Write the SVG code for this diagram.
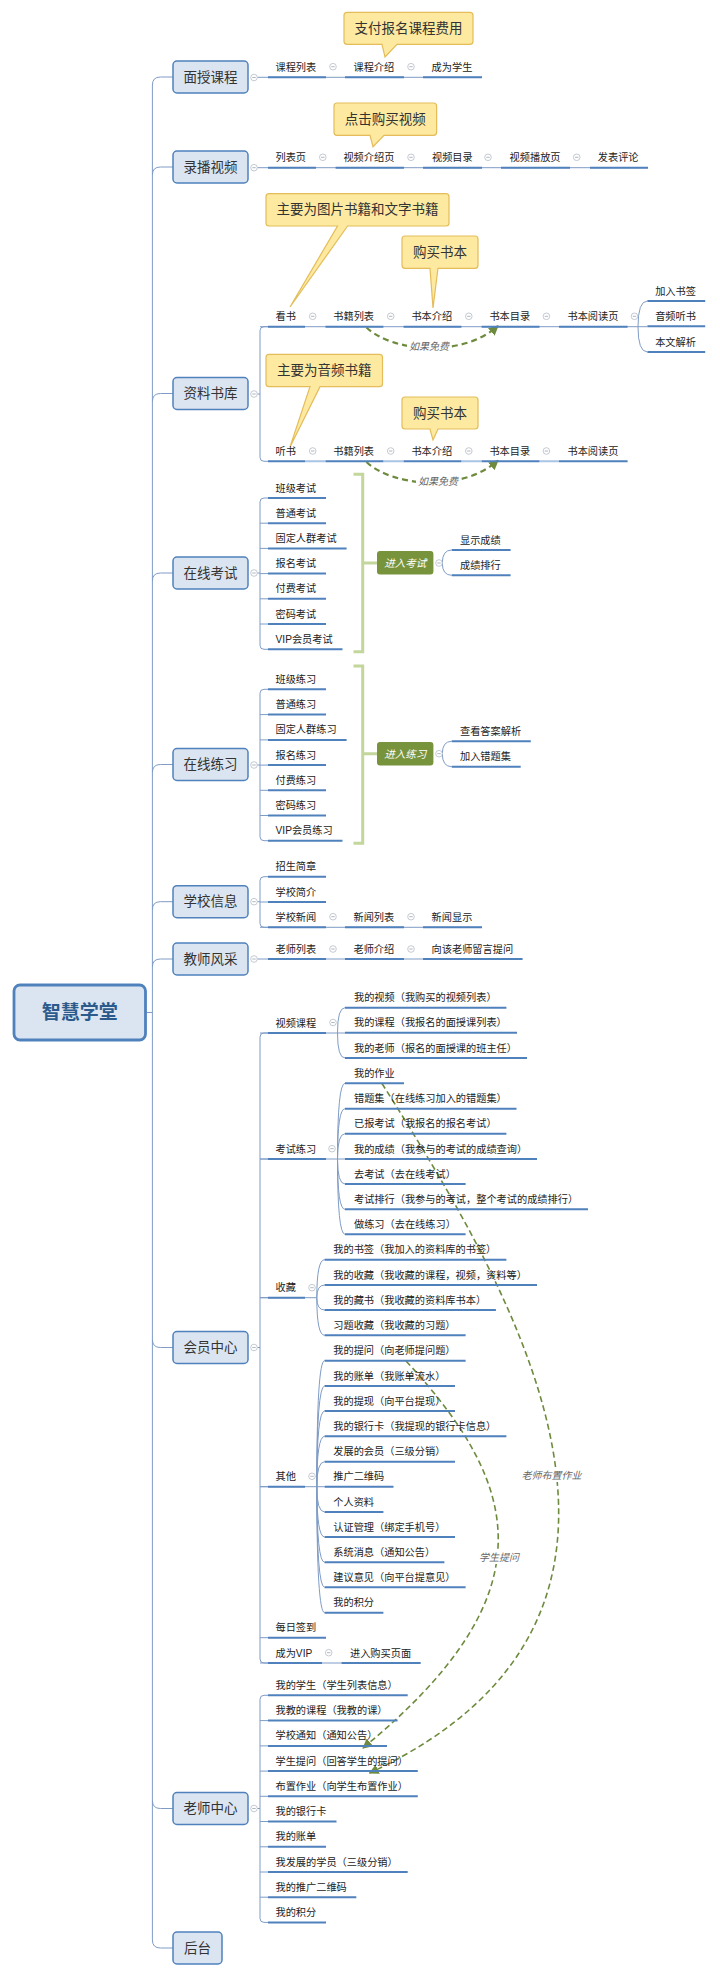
<svg xmlns="http://www.w3.org/2000/svg" xmlns:xlink="http://www.w3.org/1999/xlink" width="720" height="1978" viewBox="0 0 720 1978">
<defs>
<style>
text{font-family:"Liberation Sans","Noto Sans CJK SC",sans-serif}
.mb{fill:#dbe5f1;stroke:#4f81bd;stroke-width:1.5}
.mt{font-size:13.5px;fill:#333;text-anchor:middle;dominant-baseline:central}
.st{font-size:10.2px;fill:#222}
.ul{stroke:#4f81bd;stroke-width:2;fill:none}
.cn{stroke:#7f9cc6;stroke-width:1;fill:none}
.co{fill:#fde9a0;stroke:#e4bd5a;stroke-width:1.2}
.ct{font-size:13.5px;fill:#333;text-anchor:middle;dominant-baseline:central}
.gb{fill:#77933c}
.gt{font-size:10.5px;fill:#fff;font-style:italic;text-anchor:middle;dominant-baseline:central}
.br{stroke:#c3d69b;stroke-width:3;fill:none}
.da{stroke:#6e8b3d;fill:none}
.ds{stroke-width:2.2;stroke-dasharray:6 4}
.dl{stroke-width:1.6;stroke-dasharray:6 3.5}
.lb{font-size:10px;fill:#666;font-style:italic;text-anchor:middle;dominant-baseline:central}
</style>
<g id="cc"><circle r="3.3" fill="#fff" stroke="#b5bcc6" stroke-width="0.8"/><line x1="-1.7" x2="1.7" stroke="#9aa3ad" stroke-width="0.8"/></g>
<marker id="ah" viewBox="0 0 10 10" refX="9" refY="5" markerWidth="10" markerHeight="10" markerUnits="userSpaceOnUse" orient="auto"><path d="M0,0 L10,5 L0,10 z" fill="#6e8b3d"/></marker>
</defs>
<rect width="720" height="1978" fill="#fff"/>

<g id="connectors">
<path class="cn" d="M152.4 85 V1940"/>
<path class="cn" d="M152.4 85 Q152.4 77 160.4 77 H173"/>
<path class="cn" d="M152.4 175 Q152.4 167 160.4 167 H173"/>
<path class="cn" d="M152.4 401.5 Q152.4 393.5 160.4 393.5 H173"/>
<path class="cn" d="M152.4 581 Q152.4 573 160.4 573 H173"/>
<path class="cn" d="M152.4 772.5 Q152.4 764.5 160.4 764.5 H173"/>
<path class="cn" d="M152.4 909.7 Q152.4 901.7 160.4 901.7 H173"/>
<path class="cn" d="M152.4 967 Q152.4 959 160.4 959 H173"/>
<path class="cn" d="M145.5 1012.5 H152.4"/>
<path class="cn" d="M152.4 1339.5 Q152.4 1347.5 160.4 1347.5 H173"/>
<path class="cn" d="M152.4 1800.5 Q152.4 1808.5 160.4 1808.5 H173"/>
<path class="cn" d="M152.4 1940 Q152.4 1948 160.4 1948 H173"/>
<!-- 面授课程 -->
<path class="cn" d="M257.3 77.3 H482"/>
<!-- 录播视频 -->
<path class="cn" d="M257.3 167.7 H648"/>
<!-- 资料书库 -->
<path class="cn" d="M257.3 394 H260"/>
<path class="cn" d="M268 326.7 H264 Q260 326.7 260 330.7 V457.3 Q260 461.3 264 461.3 H268"/>
<path class="cn" d="M260 326.7 H638"/>
<path class="cn" d="M638 326.7 Q638 301 647.4 301 M638 326.7 H647.4 M638 326.7 Q638 352 647.4 352"/>
<path d="M305 461.3 H325.5 M383.4 461.3 H403.6 M461.4 461.3 H481.6 M539.5 461.3 H559" stroke="#a9c4e4" stroke-width="2" fill="none"/>
<!-- 在线考试 -->
<path class="cn" d="M257.3 573 H260"/>
<path class="cn" d="M268 498 H264 Q260 498 260 502 V645.3 Q260 649.3 264 649.3 H268 M260 523.2 H268 M260 548.4 H268 M260 573.6 H268 M260 598.8 H268 M260 624 H268"/>
<path class="br" d="M353.5 474.3 H362.7 V651.7 H353.5 M362.7 563 H377"/>
<path class="cn" d="M442.3 563 Q442.3 550 451.8 550 M442.3 563 Q442.3 575.3 451.8 575.3"/>
<!-- 在线练习 -->
<path class="cn" d="M257.3 765 H260"/>
<path class="cn" d="M268 689.3 H264 Q260 689.3 260 693.3 V836.7 Q260 840.7 264 840.7 H268 M260 714.6 H268 M260 739.9 H268 M260 765.1 H268 M260 790.3 H268 M260 815.5 H268"/>
<path class="br" d="M353.5 666 H362.7 V843.3 H353.5 M362.7 753.7 H377"/>
<path class="cn" d="M442.3 753.7 Q442.3 741.3 451.8 741.3 M442.3 753.7 Q442.3 766.7 451.8 766.7"/>
<!-- 学校信息 -->
<path class="cn" d="M257.3 901.7 H260"/>
<path class="cn" d="M268 876.7 H264 Q260 876.7 260 880.7 V923.3 Q260 927.3 264 927.3 H268 M260 902 H268"/>
<path class="cn" d="M260 927.3 H482"/>
<!-- 教师风采 -->
<path class="cn" d="M257.3 959 H522.5"/>
<!-- 会员中心 -->
<path class="cn" d="M257.3 1347.5 H260"/>
<path class="cn" d="M268 1033 H264 Q260 1033 260 1037 V1659 Q260 1663 264 1663 H268 M260 1159 H268 M260 1297.7 H268 M260 1486.7 H268 M260 1637.7 H268"/>
<path class="cn" d="M260 1033 H337.5 M260 1159 H337.5 M260 1297.7 H316.8 M260 1486.7 H316.8 M260 1663 H420.6"/>
<path class="cn" d="M337.5 1033 Q337.5 1007.7 345 1007.7 M337.5 1033 H345 M337.5 1033 Q337.5 1058 345 1058"/>
<path class="cn" d="M337.5 1159 Q337.5 1083.3 345 1083.3 M337.5 1159 Q337.5 1108.7 345 1108.7 M337.5 1159 Q337.5 1133.7 345 1133.7 M337.5 1159 H345 M337.5 1159 Q337.5 1184 345 1184 M337.5 1159 Q337.5 1209.3 345 1209.3 M337.5 1159 Q337.5 1234.3 345 1234.3"/>
<path class="cn" d="M316.8 1297.7 Q316.8 1259.7 324.6 1259.7 M316.8 1297.7 Q316.8 1285 324.6 1285 M316.8 1297.7 Q316.8 1310 324.6 1310 M316.8 1297.7 Q316.8 1335.3 324.6 1335.3"/>
<path class="cn" d="M316.8 1486.7 Q316.8 1360.7 324.6 1360.7 M316.8 1486.7 Q316.8 1386 324.6 1386 M316.8 1486.7 Q316.8 1411 324.6 1411 M316.8 1486.7 Q316.8 1436.3 324.6 1436.3 M316.8 1486.7 Q316.8 1461.7 324.6 1461.7 M316.8 1486.7 H324.6 M316.8 1486.7 Q316.8 1512 324.6 1512 M316.8 1486.7 Q316.8 1537 324.6 1537 M316.8 1486.7 Q316.8 1562.3 324.6 1562.3 M316.8 1486.7 Q316.8 1587.3 324.6 1587.3 M316.8 1486.7 Q316.8 1612.7 324.6 1612.7"/>
<!-- 老师中心 -->
<path class="cn" d="M257.3 1808.5 H260"/>
<path class="cn" d="M268 1695.3 H264 Q260 1695.3 260 1699.3 V1918.4 Q260 1922.4 264 1922.4 H268 M260 1720.6 H268 M260 1745.9 H268 M260 1771.1 H268 M260 1796.3 H268 M260 1821.5 H268 M260 1846.8 H268 M260 1872 H268 M260 1897.2 H268"/>
<!-- dashed relationships -->
<path class="da ds" d="M366.5 327.5 C392 352, 462 358, 498 326" marker-end="url(#ah)"/>
<rect x="407" y="340.5" width="44" height="12" fill="#fff"/>
<text class="lb" x="429" y="346.7">如果免费</text>
<path class="da ds" d="M366.5 462 C392 486.5, 462 492.5, 498 460.5" marker-end="url(#ah)"/>
<rect x="416" y="475" width="44" height="12" fill="#fff"/>
<text class="lb" x="438" y="481">如果免费</text>
<path class="da dl" d="M382 1083.5 C518 1299, 706 1616, 369.6 1773" marker-end="url(#ah)"/>
<rect x="520" y="1468" width="63" height="14" fill="#fff"/>
<text class="lb" x="551.5" y="1475">老师布置作业</text>
<path class="da dl" d="M406 1361 C524 1488, 548 1596, 363 1748" marker-end="url(#ah)"/>
<rect x="477" y="1550" width="44" height="14" fill="#fff"/>
<text class="lb" x="499" y="1557">学生提问</text>
</g>

<g id="root"><rect x="14" y="985" width="131.5" height="55" rx="6" fill="#dbe5f1" stroke="#4f81bd" stroke-width="2.8"/><text x="79.7" y="1012.5" font-size="19" font-weight="bold" fill="#2b5a8c" text-anchor="middle" dominant-baseline="central">智慧学堂</text></g>

<g id="m1"><rect class="mb" x="173" y="61" width="75" height="32" rx="4"/><text class="mt" x="210.5" y="77">面授课程</text><use href="#cc" x="254" y="77.5"/></g>
<g id="m2"><rect class="mb" x="173" y="151" width="75" height="32" rx="4"/><text class="mt" x="210.5" y="167">录播视频</text><use href="#cc" x="254" y="167.7"/></g>
<g id="m3"><rect class="mb" x="173" y="377.5" width="75" height="32" rx="4"/><text class="mt" x="210.5" y="393.5">资料书库</text><use href="#cc" x="254" y="394"/></g>
<g id="m4"><rect class="mb" x="173" y="557" width="75" height="32" rx="4"/><text class="mt" x="210.5" y="573">在线考试</text><use href="#cc" x="254" y="573"/></g>
<g id="m5"><rect class="mb" x="173" y="748.5" width="75" height="32" rx="4"/><text class="mt" x="210.5" y="764.5">在线练习</text><use href="#cc" x="254" y="765"/></g>
<g id="m6"><rect class="mb" x="173" y="885.7" width="75" height="32" rx="4"/><text class="mt" x="210.5" y="901.7">学校信息</text><use href="#cc" x="254" y="901.7"/></g>
<g id="m7"><rect class="mb" x="173" y="943" width="75" height="32" rx="4"/><text class="mt" x="210.5" y="959">教师风采</text><use href="#cc" x="254" y="959"/></g>
<g id="m8"><rect class="mb" x="173" y="1331.5" width="75" height="32" rx="4"/><text class="mt" x="210.5" y="1347.5">会员中心</text><use href="#cc" x="254" y="1347.5"/></g>
<g id="m9"><rect class="mb" x="173" y="1792.5" width="75" height="32" rx="4"/><text class="mt" x="210.5" y="1808.5">老师中心</text><use href="#cc" x="254" y="1808.5"/></g>
<g id="m10"><rect class="mb" x="173" y="1932" width="49" height="32" rx="4"/><text class="mt" x="197.5" y="1948">后台</text></g>

<!-- callouts -->
<g id="c1"><path class="co" d="M347 12.3 H470 Q473 12.3 473 15.3 V41.3 Q473 44.3 470 44.3 H397 L385 57 L382 44.3 H347 Q344 44.3 344 41.3 V15.3 Q344 12.3 347 12.3 Z"/><text class="ct" x="408.5" y="28.3">支付报名课程费用</text></g>
<g id="c2"><path class="co" d="M337 103 H433.6 Q436.6 103 436.6 106 V132.3 Q436.6 135.3 433.6 135.3 H384 L373 146.7 L370 135.3 H337 Q334 135.3 334 132.3 V106 Q334 103 337 103 Z"/><text class="ct" x="385.3" y="119.2">点击购买视频</text></g>
<g id="c3"><path class="co" d="M269 193.7 H446 Q449 193.7 449 196.7 V223 Q449 226 446 226 H347.6 L290 307 L337.5 226 H269 Q266 226 266 223 V196.7 Q266 193.7 269 193.7 Z"/><text class="ct" x="357.5" y="209.9">主要为图片书籍和文字书籍</text></g>
<g id="c4"><path class="co" d="M405 236 H475 Q478 236 478 239 V265.3 Q478 268.3 475 268.3 H438 L433 308 L430 268.3 H405 Q402 268.3 402 265.3 V239 Q402 236 405 236 Z"/><text class="ct" x="440" y="252.2">购买书本</text></g>
<g id="c5"><path class="co" d="M269 354.3 H379.5 Q382.5 354.3 382.5 357.3 V383.7 Q382.5 386.7 379.5 386.7 H320 L290 447 L310 386.7 H269 Q266 386.7 266 383.7 V357.3 Q266 354.3 269 354.3 Z"/><text class="ct" x="324.3" y="370.5">主要为音频书籍</text></g>
<g id="c6"><path class="co" d="M405 397 H475 Q478 397 478 400 V426 Q478 429 475 429 H438 L433 440 L430 429 H405 Q402 429 402 426 V400 Q402 397 405 397 Z"/><text class="ct" x="440" y="413">购买书本</text></g>

<!-- 面授课程 row -->
<g id="s1"><text class="st" x="275.5" y="70.8">课程列表</text><line class="ul" x1="268" y1="77.3" x2="326" y2="77.3"/><use href="#cc" x="333" y="66.7"/></g>
<g id="s2"><text class="st" x="353.5" y="70.8">课程介绍</text><line class="ul" x1="345" y1="77.3" x2="404" y2="77.3"/><use href="#cc" x="411" y="66.7"/></g>
<g id="s3"><text class="st" x="431.6" y="70.8">成为学生</text><line class="ul" x1="423" y1="77.3" x2="482" y2="77.3"/></g>

<!-- 录播视频 row -->
<g id="s4"><text class="st" x="275.5" y="161.2">列表页</text><line class="ul" x1="268" y1="167.7" x2="316" y2="167.7"/><use href="#cc" x="322.8" y="157.3"/></g>
<g id="s5"><text class="st" x="343.4" y="161.2">视频介绍页</text><line class="ul" x1="335.6" y1="167.7" x2="404" y2="167.7"/><use href="#cc" x="411" y="157.3"/></g>
<g id="s6"><text class="st" x="432" y="161.2">视频目录</text><line class="ul" x1="423" y1="167.7" x2="482" y2="167.7"/><use href="#cc" x="488" y="157.3"/></g>
<g id="s7"><text class="st" x="509.6" y="161.2">视频播放页</text><line class="ul" x1="501" y1="167.7" x2="570" y2="167.7"/><use href="#cc" x="576.7" y="157.3"/></g>
<g id="s8"><text class="st" x="597.8" y="161.2">发表评论</text><line class="ul" x1="590" y1="167.7" x2="648" y2="167.7"/></g>

<!-- 看书 row -->
<g id="s9"><text class="st" x="275.5" y="320.2">看书</text><line class="ul" x1="268" y1="326.7" x2="305" y2="326.7"/><use href="#cc" x="312.7" y="316.3"/></g>
<g id="s10"><text class="st" x="333.3" y="320.2">书籍列表</text><line class="ul" x1="325.5" y1="326.7" x2="383.4" y2="326.7"/><use href="#cc" x="390.7" y="316.3"/></g>
<g id="s11"><text class="st" x="411.4" y="320.2">书本介绍</text><line class="ul" x1="403.6" y1="326.7" x2="461.4" y2="326.7"/><use href="#cc" x="468.8" y="316.3"/></g>
<g id="s12"><text class="st" x="489.4" y="320.2">书本目录</text><line class="ul" x1="481.6" y1="326.7" x2="539.5" y2="326.7"/><use href="#cc" x="546.4" y="316.3"/></g>
<g id="s13"><text class="st" x="567.5" y="320.2">书本阅读页</text><line class="ul" x1="559" y1="326.7" x2="627.6" y2="326.7"/><use href="#cc" x="634.5" y="316.3"/></g>
<g id="s14"><text class="st" x="655.2" y="294.5">加入书签</text><line class="ul" x1="647.4" y1="301" x2="705.2" y2="301"/></g>
<g id="s15"><text class="st" x="655.2" y="319.8">音频听书</text><line class="ul" x1="647.4" y1="326.3" x2="705.2" y2="326.3"/></g>
<g id="s16"><text class="st" x="655.2" y="345.5">本文解析</text><line class="ul" x1="647.4" y1="352" x2="705.2" y2="352"/></g>

<!-- 听书 row -->
<g id="s17"><text class="st" x="275.5" y="454.8">听书</text><line class="ul" x1="268" y1="461.3" x2="305" y2="461.3"/><use href="#cc" x="312.7" y="451"/></g>
<g id="s18"><text class="st" x="333.3" y="454.8">书籍列表</text><line class="ul" x1="325.5" y1="461.3" x2="383.4" y2="461.3"/><use href="#cc" x="390.7" y="451"/></g>
<g id="s19"><text class="st" x="411.4" y="454.8">书本介绍</text><line class="ul" x1="403.6" y1="461.3" x2="461.4" y2="461.3"/><use href="#cc" x="468.8" y="451"/></g>
<g id="s20"><text class="st" x="489.4" y="454.8">书本目录</text><line class="ul" x1="481.6" y1="461.3" x2="539.5" y2="461.3"/><use href="#cc" x="546.4" y="451"/></g>
<g id="s21"><text class="st" x="567.5" y="454.8">书本阅读页</text><line class="ul" x1="559" y1="461.3" x2="627.6" y2="461.3"/></g>

<!-- 在线考试 -->
<g id="s22"><text class="st" x="275.5" y="491.5">班级考试</text><line class="ul" x1="268" y1="498" x2="326" y2="498"/></g>
<g id="s23"><text class="st" x="275.5" y="516.7">普通考试</text><line class="ul" x1="268" y1="523.2" x2="326" y2="523.2"/></g>
<g id="s24"><text class="st" x="275.5" y="541.9">固定人群考试</text><line class="ul" x1="268" y1="548.4" x2="346.6" y2="548.4"/></g>
<g id="s25"><text class="st" x="275.5" y="567.1">报名考试</text><line class="ul" x1="268" y1="573.6" x2="326" y2="573.6"/></g>
<g id="s26"><text class="st" x="275.5" y="592.3">付费考试</text><line class="ul" x1="268" y1="598.8" x2="326" y2="598.8"/></g>
<g id="s27"><text class="st" x="275.5" y="617.5">密码考试</text><line class="ul" x1="268" y1="624" x2="326" y2="624"/></g>
<g id="s28"><text class="st" x="275.5" y="642.8">VIP会员考试</text><line class="ul" x1="268" y1="649.3" x2="342.5" y2="649.3"/></g>
<g id="g1"><rect class="gb" x="377" y="551" width="56.4" height="23.5" rx="3"/><text class="gt" x="405.2" y="562.8">进入考试</text><use href="#cc" x="439" y="563"/></g>
<g id="s29"><text class="st" x="460" y="543.5">显示成绩</text><line class="ul" x1="451.8" y1="550" x2="510.6" y2="550"/></g>
<g id="s30"><text class="st" x="460" y="568.8">成绩排行</text><line class="ul" x1="451.8" y1="575.3" x2="510.6" y2="575.3"/></g>

<!-- 在线练习 -->
<g id="s31"><text class="st" x="275.5" y="682.8">班级练习</text><line class="ul" x1="268" y1="689.3" x2="326" y2="689.3"/></g>
<g id="s32"><text class="st" x="275.5" y="708.1">普通练习</text><line class="ul" x1="268" y1="714.6" x2="326" y2="714.6"/></g>
<g id="s33"><text class="st" x="275.5" y="733.4">固定人群练习</text><line class="ul" x1="268" y1="739.9" x2="346.6" y2="739.9"/></g>
<g id="s34"><text class="st" x="275.5" y="758.6">报名练习</text><line class="ul" x1="268" y1="765.1" x2="326" y2="765.1"/></g>
<g id="s35"><text class="st" x="275.5" y="783.8">付费练习</text><line class="ul" x1="268" y1="790.3" x2="326" y2="790.3"/></g>
<g id="s36"><text class="st" x="275.5" y="809">密码练习</text><line class="ul" x1="268" y1="815.5" x2="326" y2="815.5"/></g>
<g id="s37"><text class="st" x="275.5" y="834.2">VIP会员练习</text><line class="ul" x1="268" y1="840.7" x2="342.5" y2="840.7"/></g>
<g id="g2"><rect class="gb" x="377" y="742" width="56.4" height="23.5" rx="3"/><text class="gt" x="405.2" y="753.7">进入练习</text><use href="#cc" x="439" y="753.7"/></g>
<g id="s38"><text class="st" x="460" y="734.8">查看答案解析</text><line class="ul" x1="451.8" y1="741.3" x2="530.8" y2="741.3"/></g>
<g id="s39"><text class="st" x="460" y="760.2">加入错题集</text><line class="ul" x1="451.8" y1="766.7" x2="520.7" y2="766.7"/></g>

<!-- 学校信息 -->
<g id="s40"><text class="st" x="275.5" y="870.2">招生简章</text><line class="ul" x1="268" y1="876.7" x2="326" y2="876.7"/></g>
<g id="s41"><text class="st" x="275.5" y="895.5">学校简介</text><line class="ul" x1="268" y1="902" x2="326" y2="902"/></g>
<g id="s42"><text class="st" x="275.5" y="920.8">学校新闻</text><line class="ul" x1="268" y1="927.3" x2="326" y2="927.3"/><use href="#cc" x="333" y="916.7"/></g>
<g id="s43"><text class="st" x="353.5" y="920.8">新闻列表</text><line class="ul" x1="345" y1="927.3" x2="404" y2="927.3"/><use href="#cc" x="411" y="916.7"/></g>
<g id="s44"><text class="st" x="431.6" y="920.8">新闻显示</text><line class="ul" x1="423" y1="927.3" x2="482" y2="927.3"/></g>

<!-- 教师风采 -->
<g id="s45"><text class="st" x="275.5" y="952.5">老师列表</text><line class="ul" x1="268" y1="959" x2="326" y2="959"/><use href="#cc" x="333" y="949"/></g>
<g id="s46"><text class="st" x="353.5" y="952.5">老师介绍</text><line class="ul" x1="345" y1="959" x2="404" y2="959"/><use href="#cc" x="411" y="949"/></g>
<g id="s47"><text class="st" x="431.6" y="952.5">向该老师留言提问</text><line class="ul" x1="423" y1="959" x2="522.5" y2="959"/></g>

<!-- 会员中心 -->
<g id="s48"><text class="st" x="275.5" y="1026.5">视频课程</text><line class="ul" x1="268" y1="1033" x2="326" y2="1033"/><use href="#cc" x="333" y="1022.5"/></g>
<g id="s49"><text class="st" x="354" y="1001.2">我的视频（我购买的视频列表）</text><line class="ul" x1="345" y1="1007.7" x2="506.4" y2="1007.7"/></g>
<g id="s50"><text class="st" x="354" y="1026.2">我的课程（我报名的面授课列表）</text><line class="ul" x1="345" y1="1032.7" x2="517" y2="1032.7"/></g>
<g id="s51"><text class="st" x="354" y="1051.5">我的老师（报名的面授课的班主任）</text><line class="ul" x1="345" y1="1058" x2="527" y2="1058"/></g>
<g id="s52"><text class="st" x="275.5" y="1152.5">考试练习</text><line class="ul" x1="268" y1="1159" x2="326" y2="1159"/><use href="#cc" x="332" y="1148.7"/></g>
<g id="s53"><text class="st" x="354" y="1076.8">我的作业</text><line class="ul" x1="345" y1="1083.3" x2="404" y2="1083.3"/></g>
<g id="s54"><text class="st" x="354" y="1102.2">错题集（在线练习加入的错题集）</text><line class="ul" x1="345" y1="1108.7" x2="516.5" y2="1108.7"/></g>
<g id="s55"><text class="st" x="354" y="1127.2">已报考试（我报名的报名考试）</text><line class="ul" x1="345" y1="1133.7" x2="506.4" y2="1133.7"/></g>
<g id="s56"><text class="st" x="354" y="1152.5">我的成绩（我参与的考试的成绩查询）</text><line class="ul" x1="345" y1="1159" x2="537" y2="1159"/></g>
<g id="s57"><text class="st" x="354" y="1177.5">去考试（去在线考试）</text><line class="ul" x1="345" y1="1184" x2="465.6" y2="1184"/></g>
<g id="s58"><text class="st" x="354" y="1202.8">考试排行（我参与的考试，整个考试的成绩排行）</text><line class="ul" x1="345" y1="1209.3" x2="588" y2="1209.3"/></g>
<g id="s59"><text class="st" x="354" y="1227.8">做练习（去在线练习）</text><line class="ul" x1="345" y1="1234.3" x2="465.6" y2="1234.3"/></g>
<g id="s60"><text class="st" x="275.5" y="1291.2">收藏</text><line class="ul" x1="268" y1="1297.7" x2="305" y2="1297.7"/><use href="#cc" x="312" y="1287.7"/></g>
<g id="s61"><text class="st" x="333.3" y="1253.2">我的书签（我加入的资料库的书签）</text><line class="ul" x1="324.6" y1="1259.7" x2="506.4" y2="1259.7"/></g>
<g id="s62"><text class="st" x="333.3" y="1278.5">我的收藏（我收藏的课程，视频，资料等）</text><line class="ul" x1="324.6" y1="1285" x2="537" y2="1285"/></g>
<g id="s63"><text class="st" x="333.3" y="1303.5">我的藏书（我收藏的资料库书本）</text><line class="ul" x1="324.6" y1="1310" x2="495.9" y2="1310"/></g>
<g id="s64"><text class="st" x="333.3" y="1328.8">习题收藏（我收藏的习题）</text><line class="ul" x1="324.6" y1="1335.3" x2="465.6" y2="1335.3"/></g>
<g id="s65"><text class="st" x="275.5" y="1480.2">其他</text><line class="ul" x1="268" y1="1486.7" x2="305" y2="1486.7"/><use href="#cc" x="312" y="1476.3"/></g>
<g id="s66"><text class="st" x="333.3" y="1354.2">我的提问（向老师提问题）</text><line class="ul" x1="324.6" y1="1360.7" x2="465.6" y2="1360.7"/></g>
<g id="s67"><text class="st" x="333.3" y="1379.5">我的账单（我账单流水）</text><line class="ul" x1="324.6" y1="1386" x2="455" y2="1386"/></g>
<g id="s68"><text class="st" x="333.3" y="1404.5">我的提现（向平台提现）</text><line class="ul" x1="324.6" y1="1411" x2="455" y2="1411"/></g>
<g id="s69"><text class="st" x="333.3" y="1429.8">我的银行卡（我提现的银行卡信息）</text><line class="ul" x1="324.6" y1="1436.3" x2="506.4" y2="1436.3"/></g>
<g id="s70"><text class="st" x="333.3" y="1455.2">发展的会员（三级分销）</text><line class="ul" x1="324.6" y1="1461.7" x2="455" y2="1461.7"/></g>
<g id="s71"><text class="st" x="333.3" y="1480.2">推广二维码</text><line class="ul" x1="324.6" y1="1486.7" x2="393.5" y2="1486.7"/></g>
<g id="s72"><text class="st" x="333.3" y="1505.5">个人资料</text><line class="ul" x1="324.6" y1="1512" x2="383.4" y2="1512"/></g>
<g id="s73"><text class="st" x="333.3" y="1530.5">认证管理（绑定手机号）</text><line class="ul" x1="324.6" y1="1537" x2="455" y2="1537"/></g>
<g id="s74"><text class="st" x="333.3" y="1555.8">系统消息（通知公告）</text><line class="ul" x1="324.6" y1="1562.3" x2="444.4" y2="1562.3"/></g>
<g id="s75"><text class="st" x="333.3" y="1580.8">建议意见（向平台提意见）</text><line class="ul" x1="324.6" y1="1587.3" x2="465.6" y2="1587.3"/></g>
<g id="s76"><text class="st" x="333.3" y="1606.2">我的积分</text><line class="ul" x1="324.6" y1="1612.7" x2="383.4" y2="1612.7"/></g>
<g id="s77"><text class="st" x="275.5" y="1631.2">每日签到</text><line class="ul" x1="268" y1="1637.7" x2="326" y2="1637.7"/></g>
<g id="s78"><text class="st" x="275.5" y="1656.5">成为VIP</text><line class="ul" x1="268" y1="1663" x2="322" y2="1663"/><use href="#cc" x="328.7" y="1652.7"/></g>
<g id="s79"><text class="st" x="350" y="1656.5">进入购买页面</text><line class="ul" x1="341.6" y1="1663" x2="420.6" y2="1663"/></g>

<!-- 老师中心 -->
<g id="s80"><text class="st" x="275.5" y="1688.8">我的学生（学生列表信息）</text><line class="ul" x1="268" y1="1695.3" x2="407.7" y2="1695.3"/></g>
<g id="s81"><text class="st" x="275.5" y="1714.1">我教的课程（我教的课）</text><line class="ul" x1="268" y1="1720.6" x2="397.6" y2="1720.6"/></g>
<g id="s82"><text class="st" x="275.5" y="1739.4">学校通知（通知公告）</text><line class="ul" x1="268" y1="1745.9" x2="387" y2="1745.9"/></g>
<g id="s83"><text class="st" x="275.5" y="1764.6">学生提问（回答学生的提问）</text><line class="ul" x1="268" y1="1771.1" x2="417.8" y2="1771.1"/></g>
<g id="s84"><text class="st" x="275.5" y="1789.8">布置作业（向学生布置作业）</text><line class="ul" x1="268" y1="1796.3" x2="417.8" y2="1796.3"/></g>
<g id="s85"><text class="st" x="275.5" y="1815">我的银行卡</text><line class="ul" x1="268" y1="1821.5" x2="336.5" y2="1821.5"/></g>
<g id="s86"><text class="st" x="275.5" y="1840.3">我的账单</text><line class="ul" x1="268" y1="1846.8" x2="326" y2="1846.8"/></g>
<g id="s87"><text class="st" x="275.5" y="1865.5">我发展的学员（三级分销）</text><line class="ul" x1="268" y1="1872" x2="407.7" y2="1872"/></g>
<g id="s88"><text class="st" x="275.5" y="1890.7">我的推广二维码</text><line class="ul" x1="268" y1="1897.2" x2="356.3" y2="1897.2"/></g>
<g id="s89"><text class="st" x="275.5" y="1915.9">我的积分</text><line class="ul" x1="268" y1="1922.4" x2="326" y2="1922.4"/></g>
</svg>
